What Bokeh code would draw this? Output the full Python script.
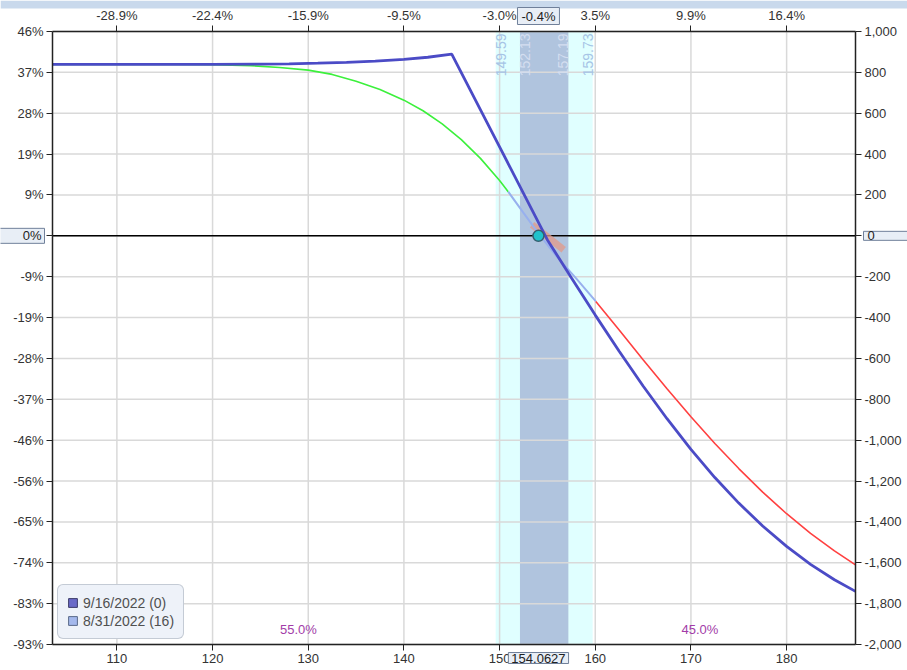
import numpy as np
from bokeh.plotting import figure
from bokeh.models import (LinearAxis, FixedTicker, Range1d, Label, Legend,
                          LegendItem, BoxAnnotation)
from bokeh.core.properties import value
from bokeh.embed import file_html
from bokeh.resources import INLINE

# ---------------- data ----------------
x_min, x_max = 103.27, 187.2
y_min, y_max = -2000, 1000
spot = 154.0627
spot_label = "154.0627"
spot_pct = "-0.4%"
zero_pct = "0%"
zero_num = "0"

x_ticks = [110, 120, 130, 140, 150, 160, 170, 180]
x_tick_num = ["110", "120", "130", "140", "150", "160", "170", "180"]
x_tick_pct = ["-28.9%", "-22.4%", "-15.9%", "-9.5%", "-3.0%", "3.5%", "9.9%", "16.4%"]

y_ticks = [-2000, -1800, -1600, -1400, -1200, -1000, -800, -600, -400, -200,
           0, 200, 400, 600, 800, 1000]
y_tick_num = ["-2,000", "-1,800", "-1,600", "-1,400", "-1,200", "-1,000", "-800",
              "-600", "-400", "-200", "", "200", "400", "600", "800", "1,000"]
y_tick_pct = ["-93%", "-83%", "-74%", "-65%", "-56%", "-46%", "-37%", "-28%",
              "-19%", "-9%", "", "9%", "19%", "28%", "37%", "46%"]

band_outer = [149.59, 159.73]
band_inner = [152.13, 157.19]
band_label_x = [149.59, 152.13, 157.19, 159.73]
band_label_text = ["149.59", "152.13", "157.19", "159.73"]

# expiration (9/16/2022)
exp_price = [103.27, 110, 115, 120, 125, 128, 131, 134, 137, 140, 142.5, 145,
             150, 155, 157.5, 160, 162.5, 165, 167.5, 170, 172.5, 175, 177.5,
             180, 182.5, 185, 187.2]
exp_pl = [839, 839, 839, 839, 840, 842, 845, 849, 855, 864, 874, 889,
          435, -20, -205, -388, -565, -735, -895, -1045, -1183, -1308, -1420,
          -1520, -1608, -1683, -1740]

# 8/31/2022 (16 days) curve, in three colour segments
t16_low_price = [103.27, 110, 116, 120, 124, 127, 130, 132.5, 135, 137.5, 140,
                 142, 144, 146, 148, 150, 150.9]
t16_low_pl = [839, 839, 839, 837, 833, 824, 811, 790, 757, 716, 664,
              612, 548, 471, 379, 271, 216]
t16_mid_price = [150.9, 152.5, 154.06, 156, 158, 160.06]
t16_mid_pl = [216, 112, 12, -103, -208, -321]
t16_high_price = [160.06, 162.5, 165, 167.5, 170, 172.5, 175, 177.5, 180,
                  182.5, 185, 187.2]
t16_high_pl = [-321, -461, -606, -748, -885, -1016, -1139, -1254, -1360,
               -1456, -1542, -1610]

today_price = [153.4, 156.7]
today_pl = [54, -68]

prob_text = ["55.0%", "45.0%"]
legend_labels = ["9/16/2022 (0)", "8/31/2022 (16)"]

# ---------------- layout (pixels) ----------------
W, H = 907, 670
PL, PR, PT, PB = 52, 52, 31, 26          # plot-area insets inside the canvas
xpp = (x_max - x_min) / (W - PL - PR)    # data units per pixel
ypp = (y_max - y_min) / (H - PT - PB)
x_lo, x_hi = x_min - PL * xpp, x_max + PR * xpp
y_lo, y_hi = y_min - PB * ypp, y_max + PT * ypp

FONT = "Liberation Sans"
p = figure(width=W, height=H, x_range=Range1d(x_lo, x_hi),
           y_range=Range1d(y_lo, y_hi), output_backend="svg",
           toolbar_location=None, x_axis_location=None, y_axis_location=None,
           min_border=0)
p.min_border_left = p.min_border_right = p.min_border_top = p.min_border_bottom = 0
p.outline_line_color = None
p.background_fill_color = "white"
p.border_fill_color = "white"
p.grid.visible = False


def make_axis(side, ticks, labels, loc, bounds):
    ax = LinearAxis(ticker=FixedTicker(ticks=ticks),
                    major_label_overrides=dict(zip(ticks, labels)),
                    fixed_location=loc, bounds=bounds)
    ax.major_label_text_font = FONT
    ax.major_label_text_font_size = "13px"
    ax.major_label_text_color = "#333333"
    ax.axis_line_color = "#222222"
    ax.axis_line_width = 1.5
    ax.major_tick_line_color = "#222222"
    ax.major_tick_line_width = 1
    ax.major_tick_out = 6
    ax.major_tick_in = 0
    ax.minor_tick_line_color = None
    ax.major_label_standoff = 3
    p.add_layout(ax, side)
    return ax


make_axis("below", x_ticks, x_tick_num, y_min, (x_min, x_max))
make_axis("above", x_ticks, x_tick_pct, y_max, (x_min, x_max))
make_axis("left", y_ticks, y_tick_pct, x_min, (y_min, y_max))
make_axis("right", y_ticks, y_tick_num, x_max, (y_min, y_max))

# window header strip
p.add_layout(BoxAnnotation(bottom=y_hi - 8 * ypp, fill_color="#c9d9ec",
                           fill_alpha=1, line_color=None))

# bands
p.quad(left=[band_outer[0]], right=[band_outer[1]], bottom=[y_min], top=[y_max],
       fill_color="#e0ffff", line_color=None, level="image")
p.quad(left=[band_inner[0]], right=[band_inner[1]], bottom=[y_min], top=[y_max],
       fill_color="#b0c4de", line_color=None, level="image")

# grid lines, limited to the plot area
p.segment(x0=x_ticks, x1=x_ticks, y0=[y_min] * len(x_ticks), y1=[y_max] * len(x_ticks),
          line_color="#d9d9d9", line_width=1.5, level="underlay")
p.segment(x0=[x_min] * len(y_ticks), x1=[x_max] * len(y_ticks), y0=y_ticks, y1=y_ticks,
          line_color="#d9d9d9", line_width=1.5, level="underlay")

# band labels (vertical)
p.text(x=band_label_x[:2], y=[y_max, y_max], text=band_label_text[:2],
       angle=np.pi / 2, text_align="right", text_baseline="top",
       text_font=value(FONT), text_font_size="14px",
       text_color=["#a6c4e6", "#d4def0"], y_offset=2)
p.text(x=band_label_x[2:], y=[y_max, y_max], text=band_label_text[2:],
       angle=np.pi / 2, text_align="right", text_baseline="bottom",
       text_font=value(FONT), text_font_size="14px",
       text_color=["#d4def0", "#a6c4e6"], y_offset=2)

# zero line
p.line(x=[x_min, x_max], y=[0, 0], line_color="black", line_width=1.5)

# curves
p.line(today_price, today_pl, line_color="#e39a88", line_width=7, line_alpha=0.75)
p.line(t16_low_price, t16_low_pl, line_color="#3cf03c", line_width=1.6)
p.line(t16_mid_price, t16_mid_pl, line_color="#98b0ee", line_width=2)
p.line(t16_high_price, t16_high_pl, line_color="#ff4040", line_width=1.6)
p.line(exp_price, exp_pl, line_color="#4b4bc6", line_width=2.8)

p.scatter(x=[spot], y=[0], size=11, marker="circle", fill_color="#1fc2cc",
          line_color="#355f70", line_width=1.5)

# probability labels
p.text(x=[(x_min + spot) / 2 + 0.3, (spot + x_max) / 2 + 0.3],
       y=[y_min + 75, y_min + 75], text=prob_text, text_align="center",
       text_baseline="middle", text_font=value(FONT), text_font_size="13px",
       text_color="#a23ca8")

# legend (swatches only; NaN keeps them off the plot)
r1 = p.quad(left=[np.nan], right=[np.nan], top=[np.nan], bottom=[np.nan],
            fill_color="#6a6ac8", line_color="#3c3c6a")
r2 = p.quad(left=[np.nan], right=[np.nan], top=[np.nan], bottom=[np.nan],
            fill_color="#a4b8ec", line_color="#5a6a8a")
legend = Legend(items=[LegendItem(label=legend_labels[0], renderers=[r1]),
                       LegendItem(label=legend_labels[1], renderers=[r2])],
                location=(PL + 5, PB + 5), margin=0, padding=9, spacing=1,
                glyph_width=11, glyph_height=11, label_standoff=5,
                label_height=17, label_text_font=FONT,
                label_text_font_size="14px", label_text_color="#505050",
                background_fill_color="#eef2f9", background_fill_alpha=1,
                border_line_color="#9aa4b2", border_line_width=1)
if "border_radius" in Legend.properties():
    legend.border_radius = 6
p.add_layout(legend)


# boxed marker labels
def boxed(pad, **kw):
    lab = Label(text_font=FONT, text_font_size="13px", text_color="#222222",
                background_fill_color="#e8eef6", background_fill_alpha=1,
                border_line_color="#70809a", border_line_width=1, **kw)
    if "padding" in Label.properties():
        try:
            lab.padding = pad
        except Exception:
            lab.padding = 2
    p.add_layout(lab)


boxed(dict(left=4, right=4, top=1, bottom=1), x=spot, y=y_max, text=spot_pct,
      text_align="center", text_baseline="bottom", y_offset=7)
boxed(dict(left=3, right=3, top=1, bottom=1), x=spot, y=y_min, text=spot_label,
      text_align="center", text_baseline="top", y_offset=-8)
boxed(dict(left=30, right=3, top=0, bottom=0), x=x_min, y=0, text=zero_pct,
      text_align="right", text_baseline="middle", x_offset=-8)
boxed(dict(left=4, right=40, top=0, bottom=0), x=x_max, y=0, text=zero_num,
      text_align="left", text_baseline="middle", x_offset=8)

open("out.html", "w").write(file_html(p, INLINE))
